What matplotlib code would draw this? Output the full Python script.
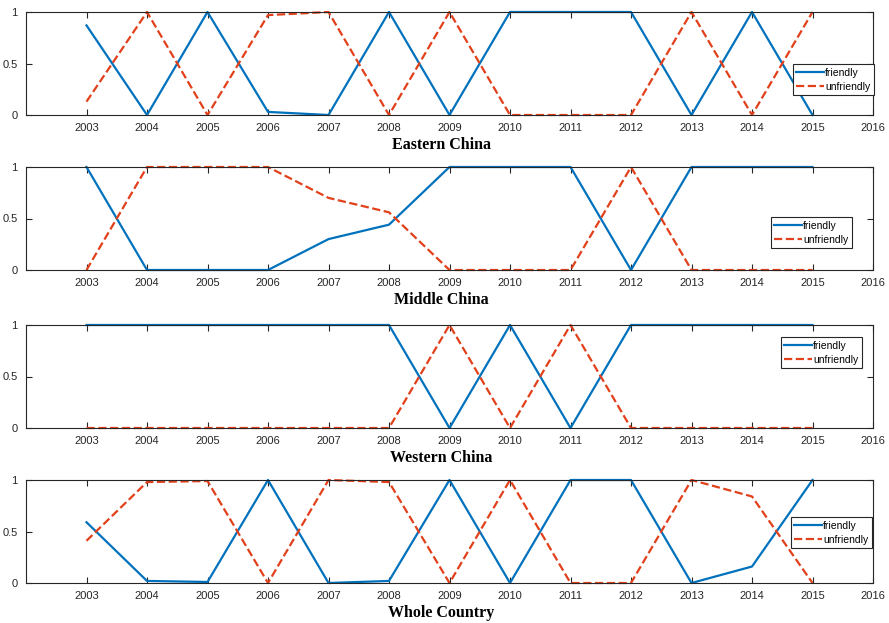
import matplotlib.pyplot as plt

years = list(range(2003, 2016))
regions = ['Eastern China', 'Middle China', 'Western China', 'Whole Country']

eastern_friendly = [0.87, 0.0, 1.0, 0.03, 0.0, 1.0, 0.0, 1.0, 1.0, 1.0, 0.0, 1.0, 0.0]
eastern_unfriendly = [0.13, 1.0, 0.0, 0.97, 1.0, 0.0, 1.0, 0.0, 0.0, 0.0, 1.0, 0.0, 1.0]
middle_friendly = [1.0, 0.0, 0.0, 0.0, 0.30, 0.44, 1.0, 1.0, 1.0, 0.0, 1.0, 1.0, 1.0]
middle_unfriendly = [0.0, 1.0, 1.0, 1.0, 0.70, 0.56, 0.0, 0.0, 0.0, 1.0, 0.0, 0.0, 0.0]
western_friendly = [1.0, 1.0, 1.0, 1.0, 1.0, 1.0, 0.0, 1.0, 0.0, 1.0, 1.0, 1.0, 1.0]
western_unfriendly = [0.0, 0.0, 0.0, 0.0, 0.0, 0.0, 1.0, 0.0, 1.0, 0.0, 0.0, 0.0, 0.0]
whole_friendly = [0.59, 0.02, 0.01, 1.0, 0.0, 0.02, 1.0, 0.0, 1.0, 1.0, 0.0, 0.16, 1.0]
whole_unfriendly = [0.41, 0.98, 0.99, 0.0, 1.0, 0.98, 0.0, 1.0, 0.0, 0.0, 1.0, 0.84, 0.0]

friendly = [eastern_friendly, middle_friendly, western_friendly, whole_friendly]
unfriendly = [eastern_unfriendly, middle_unfriendly, western_unfriendly, whole_unfriendly]

xticks = list(range(2003, 2017))
yticks = [0, 0.5, 1]
ytick_labels = ['0', '0.5', '1']

plt.rcParams['font.family'] = ['Liberation Sans', 'DejaVu Sans']

fig = plt.figure(figsize=(8.89, 6.23), dpi=100)

# axes geometry in pixels (top, bottom)
panel_rows = [(12, 115), (167, 270), (325, 428), (480, 583)]
# legend box upper-right corner in pixels
legend_corner = [(874, 64), (852, 217), (862, 337), (872, 517)]
left_px, right_px = 26, 873
W, H = 889, 623

for i, region in enumerate(regions):
    top, bottom = panel_rows[i]
    ax = fig.add_axes([left_px / W, 1 - bottom / H, (right_px - left_px) / W, (bottom - top) / H])
    ax.plot(years, friendly[i], color='#0072BD', lw=1.6, label='friendly', clip_on=False)
    ax.plot(years, unfriendly[i], color='#E2401A', lw=1.6, ls='--', label='unfriendly', clip_on=False)
    ax.set_xlim(2002, 2016)
    ax.set_ylim(0, 1)
    ax.set_xticks(xticks)
    ax.set_yticks(yticks)
    ax.set_yticklabels(ytick_labels)
    ax.tick_params(direction='in', top=True, right=True, length=4, width=0.8,
                   labelsize=8, color='#262626', labelcolor='#262626', pad=6)
    for s in ax.spines.values():
        s.set_color('#262626')
        s.set_linewidth(0.8)
    ax.text(0.49, -0.29, region, transform=ax.transAxes, ha='center', va='center',
            fontsize=11.5, fontweight='bold', family='Liberation Serif')
    lx, ly = legend_corner[i]
    ax_x = (lx - left_px) / (right_px - left_px)
    ax_y = (bottom - ly) / (bottom - top)
    leg = ax.legend(loc='upper right', bbox_to_anchor=(ax_x, ax_y), fontsize=7.5,
                    frameon=True, fancybox=False, framealpha=1, edgecolor='#262626',
                    handlelength=2.6, handletextpad=0.15, borderpad=0.35,
                    labelspacing=0.4, borderaxespad=0.0)
    leg.get_frame().set_linewidth(0.8)

fig.savefig('out.png', dpi=100)
